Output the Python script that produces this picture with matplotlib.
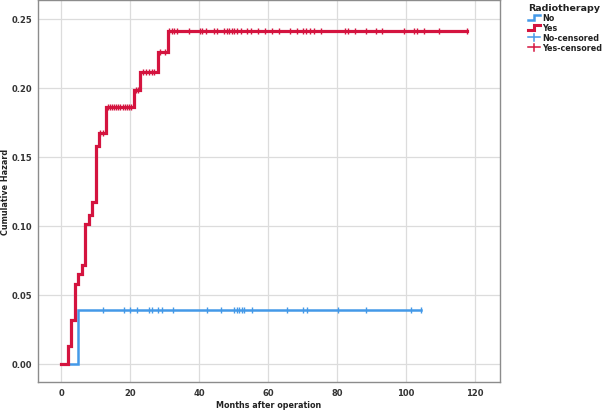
import numpy as np
import matplotlib
matplotlib.use("Agg")
import matplotlib.pyplot as plt
from matplotlib.lines import Line2D
from matplotlib.legend_handler import HandlerBase

# ---- data ----
yes_times = [0, 2, 3, 4, 5, 6, 7, 8, 9, 10, 11, 13, 21, 23, 28, 31]
yes_hazard = [0.0, 0.013, 0.032, 0.058, 0.065, 0.072, 0.101, 0.108, 0.117,
              0.158, 0.167, 0.186, 0.198, 0.211, 0.226, 0.241]
yes_censored = [11.3, 12.2,
                13.6, 14.2, 14.8, 15.4, 16.0, 16.6, 17.2, 17.8, 18.4, 19.0, 19.6, 20.2,
                21.6, 22.4,
                23.8, 24.6, 25.4, 26.2, 27.0,
                28.8, 30.0,
                31.4, 32.1, 32.8, 33.6, 37.2, 40.3, 40.8, 42.0, 44.2, 45.1, 47.2, 48.0,
                48.8, 49.5, 50.2, 51.1, 52.1, 54.0, 55.0, 57.2, 59.1, 61.1, 63.2, 66.2,
                68.3, 70.2, 71.0, 72.0, 73.3, 75.3, 82.3, 83.3, 85.2, 88.4, 91.2, 93.0,
                99.4, 102.3, 103.1, 105.3, 109.4, 117.6]

no_times = [0, 5]
no_hazard = [0.0, 0.039]
no_censored = [12.1, 18.1, 20.0, 22.1, 25.6, 26.3, 28.2, 29.2, 32.3, 42.2, 46.3,
               50.1, 50.9, 51.7, 52.4, 53.1, 55.3, 65.4, 70.2, 71.2, 80.4, 88.4,
               101.4, 104.3]

xticks = [0, 20, 40, 60, 80, 100, 120]
yticks = [0.00, 0.05, 0.10, 0.15, 0.20, 0.25]

RED = "#d4143f"
BLUE = "#4499e8"

fig = plt.figure(figsize=(6.06, 4.14), dpi=100)
ax = fig.add_axes([0.0627, 0.075, 0.7623, 0.923])


def draw(times, haz, cens, color, lw):
    t = list(times) + [max(cens)]
    h = list(haz) + [haz[-1]]
    ax.step(t, h, where="post", color=color, lw=lw, zorder=3, solid_joinstyle="miter")
    idx = np.searchsorted(np.array(times), np.array(cens), side="right") - 1
    cy = np.array(haz)[idx]
    ax.plot(cens, cy, ls="none", marker="|", color=color, ms=4.5, mew=1.0, zorder=4)


draw(no_times, no_hazard, no_censored, BLUE, 1.8)
draw(yes_times, yes_hazard, yes_censored, RED, 2.3)

ax.set_xlim(-6.7, 127.2)
ax.set_ylim(-0.013, 0.2636)
ax.set_xticks(xticks)
ax.set_yticks(yticks)
ax.set_yticklabels([f"{v:.2f}" for v in yticks])
ax.grid(True, color="#dcdcdc", lw=0.9, zorder=0)
ax.tick_params(length=0, labelsize=6, labelcolor="#333333", pad=4)
for lab in ax.get_xticklabels() + ax.get_yticklabels():
    lab.set_fontweight("bold")
for s in ax.spines.values():
    s.set_color("#8c8c8c")
    s.set_linewidth(1.0)

ax.set_xlabel("Months after operation", fontsize=5.8, fontweight="bold", color="#222222")
ax.set_ylabel("Cumulative Hazard", fontsize=5.8, fontweight="bold", color="#222222")
ax.xaxis.set_label_coords(0.5, -0.048)
ax.yaxis.set_label_coords(-0.060, 0.5)


class StepHandler(HandlerBase):
    def __init__(self, color, lw):
        super().__init__()
        self.color = color
        self.lw = lw

    def create_artists(self, legend, orig_handle, xdescent, ydescent, width, height, fontsize, trans):
        x0, x1 = -xdescent, -xdescent + width
        y0, y1 = -ydescent + 0.1 * height, -ydescent + 0.9 * height
        xm = x0 + 0.45 * width
        xs = [x0, xm, xm, x1]
        ys = [y0, y0, y1, y1]
        ln = Line2D(xs, ys, color=self.color, lw=self.lw, transform=trans,
                    solid_joinstyle="miter")
        return [ln]


class CensorHandler(HandlerBase):
    def __init__(self, color):
        super().__init__()
        self.color = color

    def create_artists(self, legend, orig_handle, xdescent, ydescent, width, height, fontsize, trans):
        x0, x1 = -xdescent, -xdescent + width
        ym = -ydescent + 0.5 * height
        xm = (x0 + x1) / 2
        h1 = Line2D([x0, x1], [ym, ym], color=self.color, lw=1.1, transform=trans)
        h2 = Line2D([xm, xm], [ym - 0.6 * height, ym + 0.6 * height], color=self.color, lw=1.1, transform=trans)
        return [h1, h2]


hN = Line2D([], [], color=BLUE)
hY = Line2D([], [], color=RED)
hNc = Line2D([], [], color=BLUE, marker="+")
hYc = Line2D([], [], color=RED, marker="+")
leg = fig.legend([hN, hY, hNc, hYc], ["No", "Yes", "No-censored", "Yes-censored"],
                 handler_map={hN: StepHandler(BLUE, 1.8), hY: StepHandler(RED, 2.2),
                              hNc: CensorHandler(BLUE), hYc: CensorHandler(RED)},
                 loc="upper left", bbox_to_anchor=(0.872, 0.99), frameon=False,
                 title="Radiotherapy", handlelength=1.45, handletextpad=0.3,
                 labelspacing=0.12, borderpad=0.0, borderaxespad=0.0,
                 prop={"size": 5.8, "weight": "bold"}, alignment="left")
leg.get_title().set_fontsize(6.8)
leg.get_title().set_fontweight("bold")
leg.get_title().set_color("#222222")
for t in leg.get_texts():
    t.set_color("#222222")

fig.savefig("out.png", dpi=100)
